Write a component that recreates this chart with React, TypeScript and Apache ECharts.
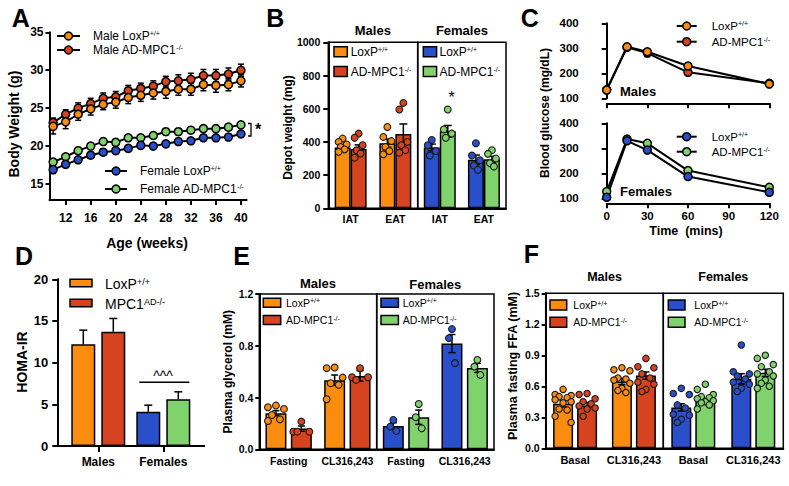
import React, { useEffect, useRef } from "react";
import * as echarts from "echarts";

const FONT = '"Liberation Sans", Arial, Helvetica, sans-serif';
const ORANGE = "#FA8C0F";
const RED = "#D5441F";
const BLUE = "#2A4FCB";
const GREEN = "#80D26C";
const BLACK = "#000";

// ---------- Panel A: body weight ----------
const weeksA = [10, 12, 14, 16, 18, 20, 22, 24, 26, 28, 30, 32, 34, 36, 38, 40];
const weekTicksA = [12, 16, 20, 24, 28, 32, 36, 40];
const weightTicksA = [15, 20, 25, 30, 35];
const maleLoxA = [22.6, 23.2, 24.2, 24.9, 25.5, 25.8, 26.4, 26.7, 27.0, 27.2, 27.5, 27.5, 28.1, 28.0, 28.1, 28.6];
const maleLoxErrA = [1.0, 0.9, 0.8, 0.8, 0.7, 0.8, 0.8, 0.8, 0.8, 0.9, 0.8, 0.8, 0.8, 0.9, 0.8, 0.8];
const maleAdA = [23.1, 24.2, 25.0, 25.6, 26.3, 26.5, 27.3, 27.6, 27.9, 28.5, 28.6, 28.8, 29.3, 29.3, 29.5, 30.0];
const maleAdErrA = [0.6, 0.6, 0.7, 0.7, 0.7, 0.7, 0.7, 0.7, 0.7, 0.7, 0.8, 0.8, 0.8, 0.8, 0.8, 0.8];
const femLoxA = [16.9, 17.6, 18.2, 18.8, 19.2, 19.4, 19.7, 20.1, 20.0, 20.3, 20.6, 20.7, 21.1, 21.1, 21.2, 21.6];
const femLoxErrA = [0.5, 0.4, 0.4, 0.4, 0.4, 0.4, 0.4, 0.4, 0.4, 0.4, 0.4, 0.4, 0.4, 0.4, 0.4, 0.4];
const femAdA = [17.9, 18.6, 19.4, 20.0, 20.6, 20.5, 21.1, 21.1, 21.4, 21.9, 21.9, 22.1, 22.3, 22.3, 22.5, 22.8];
const femAdErrA = [0.4, 0.4, 0.4, 0.4, 0.4, 0.4, 0.4, 0.4, 0.4, 0.4, 0.4, 0.4, 0.4, 0.4, 0.4, 0.4];

// ---------- Panel B: depot weight ----------
const catsB = ["IAT", "EAT"];
const bMaleLox = [367, 392];
const bMaleLoxErr = [15, 25];
const bMaleAd = [357, 448];
const bMaleAdErr = [25, 60];
const bFemLox = [367, 293];
const bFemLoxErr = [20, 28];
const bFemAd = [464, 295];
const bFemAdErr = [35, 18];
const bMaleLoxDots = [[420, 400, 385, 370, 355, 340], [490, 430, 405, 370, 345, 325]];
const bMaleAdDots = [[450, 425, 380, 350, 330, 305], [635, 595, 400, 380, 350, 335]];
const bFemLoxDots = [[412, 380, 345, 318], [392, 318, 290, 258, 232]];
const bFemAdDots = [[595, 475, 450, 425], [350, 328, 300, 272, 252]];

// ---------- Panel C: glucose tolerance ----------
const timesC = [0, 15, 30, 60, 120];
const maleLoxC = [133, 306, 286, 229, 157];
const maleLoxErrC = [6, 8, 12, 12, 8];
const maleAdC = [134, 304, 281, 204, 160];
const maleAdErrC = [5, 7, 14, 10, 7];
const femLoxC = [104, 330, 293, 187, 124];
const femLoxErrC = [5, 9, 10, 8, 6];
const femAdC = [127, 337, 320, 211, 144];
const femAdErrC = [6, 10, 9, 9, 6];

// ---------- Panel D: HOMA-IR ----------
const catsD = ["Males", "Females"];
const loxD = [12.2, 4.1];
const loxErrD = [1.7, 0.8];
const adD = [13.7, 5.6];
const adErrD = [1.6, 0.9];

// ---------- Panel E: plasma glycerol ----------
const catsE = ["Fasting", "CL316,243"];
const eMaleLox = [0.279, 0.534];
const eMaleLoxErr = [0.02, 0.04];
const eMaleAd = [0.16, 0.567];
const eMaleAdErr = [0.02, 0.04];
const eFemLox = [0.18, 0.817];
const eFemLoxErr = [0.025, 0.07];
const eFemAd = [0.248, 0.629];
const eFemAdErr = [0.055, 0.035];
const eMaleLoxDots = [[0.338, 0.325, 0.312, 0.265, 0.232, 0.219], [0.632, 0.627, 0.554, 0.511, 0.498, 0.387]];
const eMaleAdDots = [[0.214, 0.136, 0.136, 0.136], [0.627, 0.557, 0.557, 0.536]];
const eFemLoxDots = [[0.227, 0.175, 0.142], [0.929, 0.859, 0.666]];
const eFemAdDots = [[0.35, 0.248, 0.162], [0.691, 0.639, 0.575]];

// ---------- Panel F: plasma FFA ----------
const catsF = ["Basal", "CL316,243"];
const fMaleLox = [0.431, 0.646];
const fMaleLoxErr = [0.03, 0.03];
const fMaleAd = [0.415, 0.704];
const fMaleAdErr = [0.028, 0.035];
const fFemLox = [0.396, 0.672];
const fFemLoxErr = [0.035, 0.05];
const fFemAd = [0.458, 0.73];
const fFemAdErr = [0.025, 0.035];
const fMaleLoxDots = [[0.57, 0.52, 0.51, 0.5, 0.49, 0.47, 0.45, 0.44, 0.38, 0.37, 0.31, 0.25], [0.78, 0.76, 0.75, 0.68, 0.67, 0.66, 0.63, 0.58, 0.56, 0.54]];
const fMaleAdDots = [[0.53, 0.52, 0.48, 0.45, 0.43, 0.41, 0.39, 0.38, 0.31], [0.87, 0.79, 0.78, 0.72, 0.68, 0.64, 0.62, 0.57, 0.55]];
const fFemLoxDots = [[0.58, 0.53, 0.52, 0.42, 0.39, 0.33, 0.32, 0.28, 0.25], [1.0, 0.74, 0.72, 0.7, 0.67, 0.64, 0.62, 0.58, 0.55]];
const fFemAdDots = [[0.62, 0.57, 0.52, 0.5, 0.49, 0.48, 0.46, 0.45, 0.44, 0.42, 0.38], [0.9, 0.87, 0.81, 0.79, 0.74, 0.72, 0.7, 0.66, 0.63, 0.6, 0.58]];

// horizontal scatter pattern for individual points (fraction of spread)
const JITTER = [0, -1, 1, -0.5, 0.5, -1, 1, 0, -0.5, 0.5, -1, 1, 0];

// ---------- helpers ----------
const axisLine = { show: true, lineStyle: { color: BLACK, width: 2 } };
const tick = (len: number) => ({ show: true, length: len, lineStyle: { color: BLACK, width: 2 } });
const lbl = (size: number, margin: number, extra: any = {}) => ({
  color: BLACK, fontFamily: FONT, fontWeight: "bold", fontSize: size, margin, ...extra,
});
const noSplit = { show: false };

const lineSeries = (grid: number, name: string, xs: number[], ys: number[], color: string) => ({
  type: "line", name, xAxisIndex: grid, yAxisIndex: grid,
  data: xs.map((x, i) => [x, ys[i]]),
  symbol: "circle", symbolSize: 8, showSymbol: true, clip: false, z: 3,
  lineStyle: { color: BLACK, width: 2 },
  itemStyle: { color, borderColor: BLACK, borderWidth: 1.5 },
  emphasis: { disabled: true },
});

const lineErr = (grid: number, xs: number[], ys: number[], errs: number[], cap: number) => ({
  type: "custom", xAxisIndex: grid, yAxisIndex: grid, z: 1, silent: true,
  data: xs.map((x, i) => [x, ys[i], errs[i]]),
  encode: { x: 0, y: 1 },
  renderItem: (_p: any, api: any) => {
    const x = api.value(0), y = api.value(1), e = api.value(2);
    const t = api.coord([x, y + e]);
    const b = api.coord([x, y - e]);
    const st = { stroke: BLACK, lineWidth: 1.5 };
    return {
      type: "group",
      children: [
        { type: "line", shape: { x1: t[0], y1: t[1], x2: b[0], y2: b[1] }, style: st },
        { type: "line", shape: { x1: t[0] - cap, y1: t[1], x2: t[0] + cap, y2: t[1] }, style: st },
        { type: "line", shape: { x1: b[0] - cap, y1: b[1], x2: b[0] + cap, y2: b[1] }, style: st },
      ],
    };
  },
});

const barSeries = (grid: number, name: string, vals: number[], colors: string[], w: number, gap: string) => ({
  type: "bar", name, xAxisIndex: grid, yAxisIndex: grid, barWidth: w, barGap: gap, z: 2,
  data: vals.map((v, i) => ({ value: v, itemStyle: { color: colors[i] } })),
  itemStyle: { borderColor: BLACK, borderWidth: 1.5 },
  emphasis: { disabled: true },
});

const barErr = (grid: number, vals: number[], errs: number[], dx: number, cap: number, upOnly: boolean) => ({
  type: "custom", xAxisIndex: grid, yAxisIndex: grid, z: 5, silent: true,
  data: vals.map((v, i) => [i, v, errs[i]]),
  encode: { x: 0, y: 1 },
  renderItem: (_p: any, api: any) => {
    const i = api.value(0), m = api.value(1), e = api.value(2);
    const c = api.coord([i, m]);
    const t = api.coord([i, m + e]);
    const b = upOnly ? c : api.coord([i, m - e]);
    const x = c[0] + dx;
    const st = { stroke: BLACK, lineWidth: 1.5 };
    const children: any[] = [
      { type: "line", shape: { x1: x, y1: b[1], x2: x, y2: t[1] }, style: st },
      { type: "line", shape: { x1: x - cap, y1: t[1], x2: x + cap, y2: t[1] }, style: st },
    ];
    if (!upOnly) children.push({ type: "line", shape: { x1: x - cap, y1: b[1], x2: x + cap, y2: b[1] }, style: st });
    return { type: "group", children };
  },
});

const dots = (grid: number, groups: number[][], dx: number, spread: number, r: number, color: string) => {
  const data: number[][] = [];
  groups.forEach((vals, ci) => vals.forEach((v, k) => data.push([ci, v, k])));
  return {
    type: "custom", xAxisIndex: grid, yAxisIndex: grid, z: 6, silent: true,
    data, encode: { x: 0, y: 1 },
    renderItem: (_p: any, api: any) => {
      const c = api.coord([api.value(0), api.value(1)]);
      const k = api.value(2);
      return {
        type: "circle",
        shape: { cx: c[0] + dx + JITTER[k % JITTER.length] * spread, cy: c[1], r },
        style: { fill: color, stroke: "#1a1a1a", lineWidth: 1.1 },
      };
    },
  };
};

const txt = (x: number, y: number, text: string, size: number, o: any = {}) => ({
  type: "text", x, y, rotation: o.rot || 0, silent: true, z: 20,
  style: {
    text, fontSize: size, fontFamily: FONT, fontWeight: o.bold ? "bold" : "normal",
    fill: BLACK, align: o.align || "center", verticalAlign: "middle",
    rich: {
      sup: { fontSize: Math.round(size * 0.62), fontFamily: FONT, fontWeight: o.bold ? "bold" : "normal", fill: BLACK, verticalAlign: "top" },
    },
  },
});
const lineLegend = (x1: number, x2: number, y: number, color: string) => [
  { type: "line", silent: true, z: 20, shape: { x1, y1: y, x2, y2: y }, style: { stroke: BLACK, lineWidth: 2 } },
  { type: "circle", silent: true, z: 21, shape: { cx: (x1 + x2) / 2, cy: y, r: 4 }, style: { fill: color, stroke: BLACK, lineWidth: 1.5 } },
];
const rectLegend = (x: number, y: number, w: number, h: number, color: string) => ({
  type: "rect", silent: true, z: 20, shape: { x, y, width: w, height: h }, style: { fill: color, stroke: BLACK, lineWidth: 1.5 },
});
const gline = (x1: number, y1: number, x2: number, y2: number, w: number) => ({
  type: "line", silent: true, z: 20, shape: { x1, y1, x2, y2 }, style: { stroke: BLACK, lineWidth: w },
});

function buildOption(): any {
  const box = { show: true, borderColor: BLACK, borderWidth: 1.5, backgroundColor: "transparent" };
  const grid = [
    { left: 49.5, top: 32.3, width: 197.1, height: 167.7 }, // 0 A
    { left: 328.3, top: 42.3, width: 89.4, height: 166, ...box }, // 1 B male
    { left: 417.7, top: 42.3, width: 88.3, height: 166, ...box }, // 2 B female
    { left: 606.7, top: 23.3, width: 162.6, height: 75 }, // 3 C males
    { left: 606.7, top: 123.3, width: 162.6, height: 75 }, // 4 C females
    { left: 65.8, top: 279.3, width: 130, height: 166.7 }, // 5 D
    { left: 259.3, top: 294, width: 117.4, height: 155.3, ...box }, // 6 E male
    { left: 376.7, top: 294, width: 117.3, height: 155.3, ...box }, // 7 E female
    { left: 545.7, top: 293.3, width: 117.6, height: 155, ...box }, // 8 F male
    { left: 663.3, top: 293.3, width: 120, height: 155, ...box }, // 9 F female
  ];

  const catX = (g: number, data: string[], size: number, margin: number) => ({
    gridIndex: g, type: "category", data, axisLine, axisTick: { show: false },
    axisLabel: lbl(size, margin, { interval: 0 }), splitLine: noSplit,
  });
  const xAxis = [
    {
      gridIndex: 0, type: "value", min: 9.42, max: 40.9, axisLine,
      axisTick: { ...tick(5), customValues: weekTicksA },
      axisLabel: lbl(12, 12, { customValues: weekTicksA }), splitLine: noSplit,
    },
    catX(1, catsB, 10.5, 5),
    catX(2, catsB, 10.5, 5),
    { gridIndex: 3, type: "value", min: 0, max: 120, interval: 30, offset: 5, axisLine, axisTick: tick(5), axisLabel: { show: false }, splitLine: noSplit },
    { gridIndex: 4, type: "value", min: 0, max: 120, interval: 30, offset: 5, axisLine, axisTick: tick(5), axisLabel: lbl(11.5, 7), splitLine: noSplit },
    { gridIndex: 5, type: "category", data: catsD, axisLine, axisTick: { ...tick(6), alignWithLabel: true }, axisLabel: lbl(12, 10), splitLine: noSplit },
    catX(6, catsE, 10.5, 6),
    catX(7, catsE, 10.5, 6),
    catX(8, catsF, 11, 6),
    catX(9, catsF, 11, 6),
  ];
  const hiddenY = (g: number, min: number, max: number) => ({ gridIndex: g, type: "value", min, max, show: false, splitLine: noSplit });
  const yAxis = [
    {
      gridIndex: 0, type: "value", min: 12.9, max: 35, axisLine,
      axisTick: { ...tick(4), customValues: weightTicksA },
      axisLabel: lbl(12, 6, { customValues: weightTicksA }), splitLine: noSplit,
    },
    {
      gridIndex: 1, type: "value", min: 0, max: 1000, interval: 200, axisLine, axisTick: tick(5),
      axisLabel: lbl(10.5, 8, { formatter: (v: number) => String(v) }), splitLine: noSplit,
    },
    hiddenY(2, 0, 1000),
    { gridIndex: 3, type: "value", min: 100, max: 400, interval: 100, offset: 19, axisLine, axisTick: tick(5), axisLabel: lbl(11.5, 9), splitLine: noSplit },
    { gridIndex: 4, type: "value", min: 100, max: 400, interval: 100, offset: 19, axisLine, axisTick: tick(5), axisLabel: lbl(11.5, 9), splitLine: noSplit },
    { gridIndex: 5, type: "value", min: 0, max: 20, interval: 5, offset: 8.5, axisLine, axisTick: tick(5), axisLabel: lbl(13, 9), splitLine: noSplit },
    {
      gridIndex: 6, type: "value", min: 0, max: 1.2, interval: 0.4, axisLine, axisTick: tick(4),
      axisLabel: lbl(10.5, 6, { formatter: (v: number) => v.toFixed(1) }), splitLine: noSplit,
    },
    hiddenY(7, 0, 1.2),
    {
      gridIndex: 8, type: "value", min: 0, max: 1.5, interval: 0.3, axisLine, axisTick: tick(4),
      axisLabel: lbl(10.5, 6, { formatter: (v: number) => v.toFixed(1) }), splitLine: noSplit,
    },
    hiddenY(9, 0, 1.5),
  ];

  const series: any[] = [
    // A
    lineErr(0, weeksA, maleAdA, maleAdErrA, 3),
    lineErr(0, weeksA, maleLoxA, maleLoxErrA, 3),
    lineErr(0, weeksA, femAdA, femAdErrA, 3),
    lineErr(0, weeksA, femLoxA, femLoxErrA, 3),
    lineSeries(0, "Male AD-MPC1-/-", weeksA, maleAdA, RED),
    lineSeries(0, "Male LoxP+/+", weeksA, maleLoxA, ORANGE),
    lineSeries(0, "Female AD-MPC1-/-", weeksA, femAdA, GREEN),
    lineSeries(0, "Female LoxP+/+", weeksA, femLoxA, BLUE),
    // B
    barSeries(1, "Male LoxP+/+", bMaleLox, [ORANGE, ORANGE], 16, "0%"),
    barSeries(1, "Male AD-MPC1-/-", bMaleAd, [RED, RED], 16, "0%"),
    barSeries(2, "Female LoxP+/+", bFemLox, [BLUE, BLUE], 16, "0%"),
    barSeries(2, "Female AD-MPC1-/-", bFemAd, [GREEN, GREEN], 16, "0%"),
    barErr(1, bMaleLox, bMaleLoxErr, -8, 4, false),
    barErr(1, bMaleAd, bMaleAdErr, 8, 4, false),
    barErr(2, bFemLox, bFemLoxErr, -8, 4, false),
    barErr(2, bFemAd, bFemAdErr, 8, 4, false),
    dots(1, bMaleLoxDots, -8, 4, 3.4, ORANGE),
    dots(1, bMaleAdDots, 8, 4, 3.4, RED),
    dots(2, bFemLoxDots, -8, 4, 3.4, BLUE),
    dots(2, bFemAdDots, 8, 4, 3.4, GREEN),
    // C
    lineErr(3, timesC, maleAdC, maleAdErrC, 3),
    lineErr(3, timesC, maleLoxC, maleLoxErrC, 3),
    lineErr(4, timesC, femAdC, femAdErrC, 3),
    lineErr(4, timesC, femLoxC, femLoxErrC, 3),
    lineSeries(3, "Males AD-MPC1-/-", timesC, maleAdC, RED),
    lineSeries(3, "Males LoxP+/+", timesC, maleLoxC, ORANGE),
    lineSeries(4, "Females AD-MPC1-/-", timesC, femAdC, GREEN),
    lineSeries(4, "Females LoxP+/+", timesC, femLoxC, BLUE),
    // D
    barSeries(5, "LoxP+/+", loxD, [ORANGE, BLUE], 24, "25%"),
    barSeries(5, "MPC1AD-/-", adD, [RED, GREEN], 24, "25%"),
    barErr(5, loxD, loxErrD, -15, 4, true),
    barErr(5, adD, adErrD, 15, 4, true),
    // E
    barSeries(6, "Male LoxP+/+", eMaleLox, [ORANGE, ORANGE], 21, "21%"),
    barSeries(6, "Male AD-MPC1-/-", eMaleAd, [RED, RED], 21, "21%"),
    barSeries(7, "Female LoxP+/+", eFemLox, [BLUE, BLUE], 21, "21%"),
    barSeries(7, "Female AD-MPC1-/-", eFemAd, [GREEN, GREEN], 21, "21%"),
    barErr(6, eMaleLox, eMaleLoxErr, -12.7, 3.5, false),
    barErr(6, eMaleAd, eMaleAdErr, 12.7, 3.5, false),
    barErr(7, eFemLox, eFemLoxErr, -12.7, 3.5, false),
    barErr(7, eFemAd, eFemAdErr, 12.7, 3.5, false),
    dots(6, eMaleLoxDots, -12.7, 8, 3.4, ORANGE),
    dots(6, eMaleAdDots, 12.7, 8, 3.4, RED),
    dots(7, eFemLoxDots, -12.7, 3, 3.4, BLUE),
    dots(7, eFemAdDots, 12.7, 3, 3.4, GREEN),
    // F
    barSeries(8, "Male LoxP+/+", fMaleLox, [ORANGE, ORANGE], 20, "20%"),
    barSeries(8, "Male AD-MPC1-/-", fMaleAd, [RED, RED], 20, "20%"),
    barSeries(9, "Female LoxP+/+", fFemLox, [BLUE, BLUE], 20, "20%"),
    barSeries(9, "Female AD-MPC1-/-", fFemAd, [GREEN, GREEN], 20, "20%"),
    barErr(8, fMaleLox, fMaleLoxErr, -12, 3.5, false),
    barErr(8, fMaleAd, fMaleAdErr, 12, 3.5, false),
    barErr(9, fFemLox, fFemLoxErr, -12, 3.5, false),
    barErr(9, fFemAd, fFemAdErr, 12, 3.5, false),
    dots(8, fMaleLoxDots, -12, 8, 3.2, ORANGE),
    dots(8, fMaleAdDots, 12, 8, 3.2, RED),
    dots(9, fFemLoxDots, -12, 8, 3.2, BLUE),
    dots(9, fFemAdDots, 12, 8, 3.2, GREEN),
  ];

  const graphic: any[] = [
    // Panel A
    txt(20.8, 18.3, "A", 25, { bold: true }),
    ...lineLegend(57, 80, 36, ORANGE),
    ...lineLegend(57, 80, 50, RED),
    txt(93, 36, "Male LoxP{sup|+/+}", 12, { align: "left" }),
    txt(93, 50, "Male AD-MPC1{sup|-/-}", 12, { align: "left" }),
    ...lineLegend(105, 127, 171, BLUE),
    ...lineLegend(105, 127, 189, GREEN),
    txt(140, 171, "Female LoxP{sup|+/+}", 12, { align: "left" }),
    txt(140, 189, "Female AD-MPC1{sup|-/-}", 12, { align: "left" }),
    { type: "polyline", silent: true, z: 20, shape: { points: [[248, 123.5], [251, 123.5], [251, 136], [248, 136]] }, style: { stroke: BLACK, lineWidth: 1.3, fill: "none" } },
    txt(258, 129, "*", 16, { bold: true }),
    txt(14, 124, "Body Weight (g)", 14, { bold: true, rot: Math.PI / 2 }),
    txt(147, 243, "Age (weeks)", 14, { bold: true }),
    // Panel B
    txt(275.3, 17.5, "B", 25, { bold: true }),
    txt(372.8, 30, "Males", 13, { bold: true }),
    txt(461.9, 30, "Females", 13, { bold: true }),
    rectLegend(334, 46.7, 13.3, 10, ORANGE),
    rectLegend(334, 66.5, 13.3, 10, RED),
    txt(350.7, 51.7, "LoxP{sup|+/+}", 12, { align: "left" }),
    txt(350.7, 71.5, "AD-MPC1{sup|-/-}", 12, { align: "left" }),
    rectLegend(423.3, 46.7, 13.3, 10, BLUE),
    rectLegend(423.3, 66.5, 13.3, 10, GREEN),
    txt(439.5, 51.7, "LoxP{sup|+/+}", 12, { align: "left" }),
    txt(439.5, 71.5, "AD-MPC1{sup|-/-}", 12, { align: "left" }),
    txt(451.7, 97, "*", 16),
    txt(287.5, 127.5, "Depot weight (mg)", 12, { bold: true, rot: Math.PI / 2 }),
    // Panel C
    txt(529.8, 17.5, "C", 25, { bold: true }),
    ...lineLegend(676.7, 696.7, 26, ORANGE),
    ...lineLegend(676.7, 696.7, 41.7, RED),
    txt(711.7, 26, "LoxP{sup|+/+}", 11.5, { align: "left" }),
    txt(711.7, 41.7, "AD-MPC1{sup|-/-}", 11.5, { align: "left" }),
    ...lineLegend(676.7, 696.7, 136.7, BLUE),
    ...lineLegend(676.7, 696.7, 151.7, GREEN),
    txt(711.7, 136.7, "LoxP{sup|+/+}", 11.5, { align: "left" }),
    txt(711.7, 151.7, "AD-MPC1{sup|-/-}", 11.5, { align: "left" }),
    txt(620, 91.7, "Males", 13, { bold: true, align: "left" }),
    txt(620, 191.7, "Females", 13, { bold: true, align: "left" }),
    txt(545, 113, "Blood glucose (mg/dL)", 12, { bold: true, rot: Math.PI / 2 }),
    txt(686, 230.5, "Time  (mins)", 12.5, { bold: true }),
    // Panel D
    txt(24, 256, "D", 25, { bold: true }),
    rectLegend(70, 279.3, 22, 7.4, ORANGE),
    rectLegend(70, 299.3, 22, 7.4, RED),
    txt(105, 284, "LoxP{sup|+/+}", 14, { align: "left" }),
    txt(105, 304, "MPC1{sup|AD-/-}", 14, { align: "left" }),
    gline(57.3, 446, 205, 446, 2),
    gline(139.3, 382.3, 189.3, 382.3, 1.5),
    txt(163, 376, "^^^", 14),
    txt(21.7, 362, "HOMA-IR", 14, { bold: true, rot: Math.PI / 2 }),
    // Panel E
    txt(241.7, 256, "E", 25, { bold: true }),
    txt(318, 283.5, "Males", 13, { bold: true }),
    txt(435.3, 284.5, "Females", 13, { bold: true }),
    rectLegend(263.3, 298.3, 17.4, 9, ORANGE),
    rectLegend(263.3, 315.5, 17.4, 9, RED),
    txt(286, 302.8, "LoxP{sup|+/+}", 10.5, { align: "left" }),
    txt(286, 320, "AD-MPC1{sup|-/-}", 10.5, { align: "left" }),
    rectLegend(381, 298.3, 17.4, 9, BLUE),
    rectLegend(381, 315.5, 17.4, 9, GREEN),
    txt(402.7, 302.8, "LoxP{sup|+/+}", 10.5, { align: "left" }),
    txt(402.7, 320, "AD-MPC1{sup|-/-}", 10.5, { align: "left" }),
    txt(228.3, 371.7, "Plasma glycerol (mM)", 12, { bold: true, rot: Math.PI / 2 }),
    // Panel F
    txt(531.5, 254, "F", 25, { bold: true }),
    txt(604.5, 277, "Males", 12.5, { bold: true }),
    txt(723.3, 277, "Females", 12.5, { bold: true }),
    rectLegend(550, 300, 16.7, 10, ORANGE),
    rectLegend(550, 317.3, 16.7, 10, RED),
    txt(573.3, 305, "LoxP{sup|+/+}", 10.5, { align: "left" }),
    txt(573.3, 322.3, "AD-MPC1{sup|-/-}", 10.5, { align: "left" }),
    rectLegend(668.3, 300, 16.7, 10, BLUE),
    rectLegend(668.3, 317.3, 16.7, 10, GREEN),
    txt(694.3, 305, "LoxP{sup|+/+}", 10.5, { align: "left" }),
    txt(694.3, 322.3, "AD-MPC1{sup|-/-}", 10.5, { align: "left" }),
    txt(513.3, 366, "Plasma fasting FFA (mM)", 12.5, { bold: true, rot: Math.PI / 2 }),
  ];

  return { animation: false, backgroundColor: "#fff", grid, xAxis, yAxis, series, graphic };
}

export default function App() {
  const ref = useRef<HTMLDivElement>(null);
  useEffect(() => {
    document.body.style.margin = "0";
    const chart = echarts.init(ref.current as HTMLDivElement, null, { renderer: "svg" });
    chart.setOption(buildOption());
    return () => chart.dispose();
  }, []);
  return <div ref={ref} style={{ width: 789, height: 486, background: "#fff" }} />;
}
